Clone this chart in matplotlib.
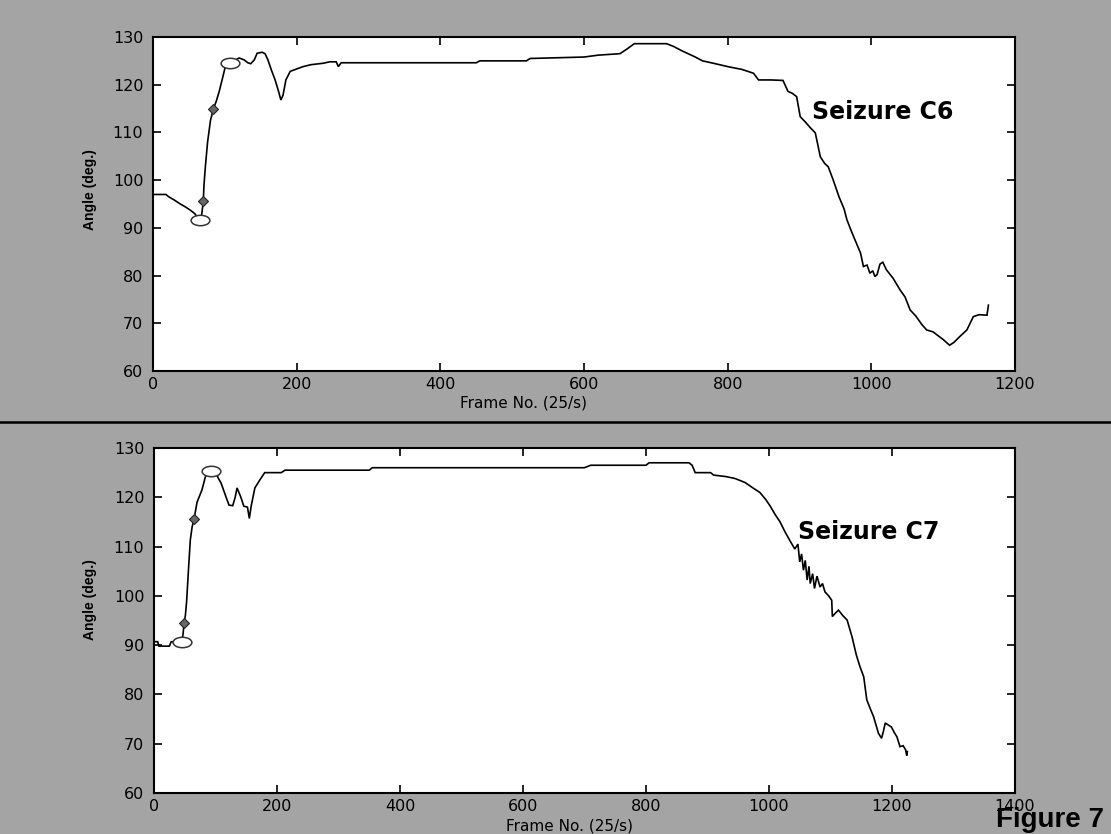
import matplotlib
matplotlib.use("Agg")
import matplotlib.pyplot as plt
from matplotlib.markers import MarkerStyle
from matplotlib.transforms import Affine2D
from matplotlib.lines import Line2D

# ---------------- data ----------------
c6_x = [0, 18, 22, 30, 38, 45, 52, 58, 62, 66,
        68, 70, 71, 73, 76, 80, 84, 88, 92, 97,
        101, 105, 110, 116, 120, 127, 132, 136, 141, 145,
        152, 156, 160, 165, 170, 175, 178, 181, 185, 191,
        200, 209, 220, 237, 246, 255, 258, 262, 450, 455,
        520, 525, 600, 620, 650, 660, 670, 715, 725, 735,
        745, 755, 765, 780, 800, 820, 836, 843, 860, 877,
        884, 890, 896, 901, 908, 915, 922, 929, 935, 940,
        947, 955, 962, 966, 973, 980, 985, 989, 994, 998,
        1002, 1005, 1008, 1012, 1016, 1021, 1030, 1040, 1047, 1054,
        1062, 1070, 1077, 1086, 1092, 1100, 1109, 1115, 1123, 1133,
        1142, 1150, 1161, 1163]
c6_y = [97, 97, 96.5, 95.8, 95, 94.4, 93.7, 93, 92.2, 91.6,
        93, 95.6, 99, 103, 108, 112.5, 114.9, 116.5, 118.5, 121.5,
        124, 124.6, 124.6, 125.3, 125.6, 125.2, 124.6, 124.4, 125.2, 126.6,
        126.8, 126.5, 125.2, 123, 121, 118.5, 116.8, 117.8, 121, 122.8,
        123.3, 123.8, 124.2, 124.5, 124.8, 124.8, 123.8, 124.6, 124.6, 125,
        125, 125.5, 125.8, 126.2, 126.5, 127.5, 128.6, 128.6, 128, 127.2,
        126.5, 125.8, 125, 124.5, 123.8, 123.2, 122.4, 121, 121, 120.9,
        118.6, 118.2, 117.5, 113.3, 112.2, 111, 109.9, 104.9, 103.5, 102.8,
        100, 96.5, 94, 91.7, 89, 86.5, 84.7, 81.9, 82.2, 80.5,
        81, 79.8, 80.2, 82.4, 82.8, 81.2, 79.5, 77, 75.5, 72.8,
        71.5, 69.8, 68.6, 68.2, 67.5, 66.6, 65.4, 66, 67.2, 68.6,
        71.4, 71.8, 71.7, 73.8]

c7_x = [0, 6, 8, 25, 28, 45, 47, 49, 51, 53,
        56, 59, 62, 65, 70, 78, 83, 87, 100, 104,
        109, 117, 122, 128, 132, 135, 141, 146, 152, 155,
        158, 164, 172, 180, 207, 213, 350, 355, 700, 710,
        800, 805, 870, 875, 880, 905, 910, 930, 945, 961,
        975, 985, 995, 1002, 1010, 1018, 1026, 1034, 1042, 1047,
        1050, 1053, 1056, 1059, 1062, 1065, 1067, 1071, 1074, 1078,
        1083, 1087, 1091, 1097, 1102, 1103, 1108, 1113, 1120, 1127,
        1135, 1142, 1148, 1154, 1159, 1165, 1170, 1178, 1183, 1186,
        1189, 1194, 1199, 1204, 1208, 1213, 1218, 1222, 1224, 1225]
c7_y = [90.7, 90.7, 89.8, 89.8, 90.7, 90.7, 92, 94.5, 96, 98.8,
        105.2, 111.3, 114, 115.5, 119, 121.5, 123.9, 125.3, 125.3, 124,
        122.9, 120.1, 118.4, 118.3, 120, 121.9, 120.1, 118.2, 118, 115.7,
        118.2, 121.9, 123.5, 125, 125, 125.5, 125.5, 126, 126, 126.5,
        126.5, 127, 127, 126.5, 125, 125, 124.5, 124.2, 123.8, 123,
        121.8, 121, 119.5, 118.2, 116.5, 115, 113, 111.2, 109.5, 110.5,
        106.9, 108.5, 105.2, 107.2, 103.2, 106, 102.5, 104.5, 101.5, 104,
        101.8, 102.5, 100.8, 100, 99.1, 95.8, 96.5, 97.1, 96, 95.1,
        91.7, 88, 85.6, 83.6, 78.9, 77, 75.5, 72.1, 71.1, 72.5,
        74.2, 73.8, 73.4, 72.2, 71.4, 69.4, 69.6, 68.8, 67.6, 68.4]

# event markers (open ellipses and filled diamonds)
c6_circle_x = [65, 107]
c6_circle_y = [91.6, 124.5]
c6_diamond_x = [70, 84]
c6_diamond_y = [95.6, 114.9]
c7_circle_x = [45, 92]
c7_circle_y = [90.7, 125.3]
c7_diamond_x = [49, 65]
c7_diamond_y = [94.5, 115.5]

y_ticks = [60, 70, 80, 90, 100, 110, 120, 130]
c6_x_ticks = [0, 200, 400, 600, 800, 1000, 1200]
c7_x_ticks = [0, 200, 400, 600, 800, 1000, 1200, 1400]

titles = ["Seizure C6", "Seizure C7"]
x_label = "Frame No. (25/s)"
y_label = "Angle (deg.)"
fig_label = "Figure 7"

# ---------------- figure ----------------
W, H = 1111, 834
bg = "#a4a4a4"
fig = plt.figure(figsize=(W / 100, H / 100), dpi=100, facecolor=bg)

def px_axes(x0, y0, x1, y1):
    return fig.add_axes([x0 / W, 1 - y1 / H, (x1 - x0) / W, (y1 - y0) / H])

ax1 = px_axes(153, 37, 1015, 371)
ax2 = px_axes(154, 448, 1015, 793)

ell = MarkerStyle("o", transform=Affine2D().scale(1.8, 1.0))

def style(ax, xmax, xticks):
    ax.set_facecolor("white")
    ax.set_xlim(0, xmax)
    ax.set_ylim(60, 130)
    ax.set_xticks(xticks)
    ax.set_yticks(y_ticks)
    ax.tick_params(direction="in", length=6, width=1.2, top=True, right=True,
                   labelsize=11.5, colors="black", pad=7)
    ax.tick_params(axis="x", pad=4)
    for s in ax.spines.values():
        s.set_linewidth(1.5)
        s.set_color("black")

def draw(ax, x, y, cx, cy, dx, dy):
    ax.plot(x, y, color="black", lw=1.2, solid_joinstyle="miter")
    ax.plot(cx, cy, linestyle="none", marker=ell, ms=7.5, mfc="white",
            mec="#333333", mew=1.1)
    ax.plot(dx, dy, linestyle="none", marker="D", ms=5, mfc="#666666",
            mec="#222222", mew=0.8)

draw(ax1, c6_x, c6_y, c6_circle_x, c6_circle_y, c6_diamond_x, c6_diamond_y)
draw(ax2, c7_x, c7_y, c7_circle_x, c7_circle_y, c7_diamond_x, c7_diamond_y)
style(ax1, 1200, c6_x_ticks)
style(ax2, 1400, c7_x_ticks)

# titles inside axes
fig.text(812 / W, 1 - 112 / H, titles[0], fontsize=17, fontweight="bold",
         ha="left", va="center", color="black")
fig.text(798 / W, 1 - 532 / H, titles[1], fontsize=17, fontweight="bold",
         ha="left", va="center", color="black")

# axis labels
narrow = ["Liberation Sans Narrow", "Liberation Sans", "DejaVu Sans"]
fig.text(523 / W, 1 - 403 / H, x_label, fontsize=11, ha="center", va="center")
fig.text(570 / W, 1 - 826 / H, x_label, fontsize=11, ha="center", va="center")
fig.text(90 / W, 1 - 190 / H, y_label, fontsize=10, rotation=90, ha="center",
         va="center", family=narrow, fontweight="bold")
fig.text(90 / W, 1 - 600 / H, y_label, fontsize=10, rotation=90, ha="center",
         va="center", family=narrow, fontweight="bold")

# figure label
fig.text(1050 / W, 1 - 820 / H, fig_label, fontsize=20, fontweight="bold",
         ha="center", va="center", family=narrow)

# separator line across the page
fig.add_artist(Line2D([0, 1], [1 - 422 / H, 1 - 422 / H], transform=fig.transFigure,
                      color="black", lw=1.8))

fig.savefig("out.png", dpi=100, facecolor=bg)
